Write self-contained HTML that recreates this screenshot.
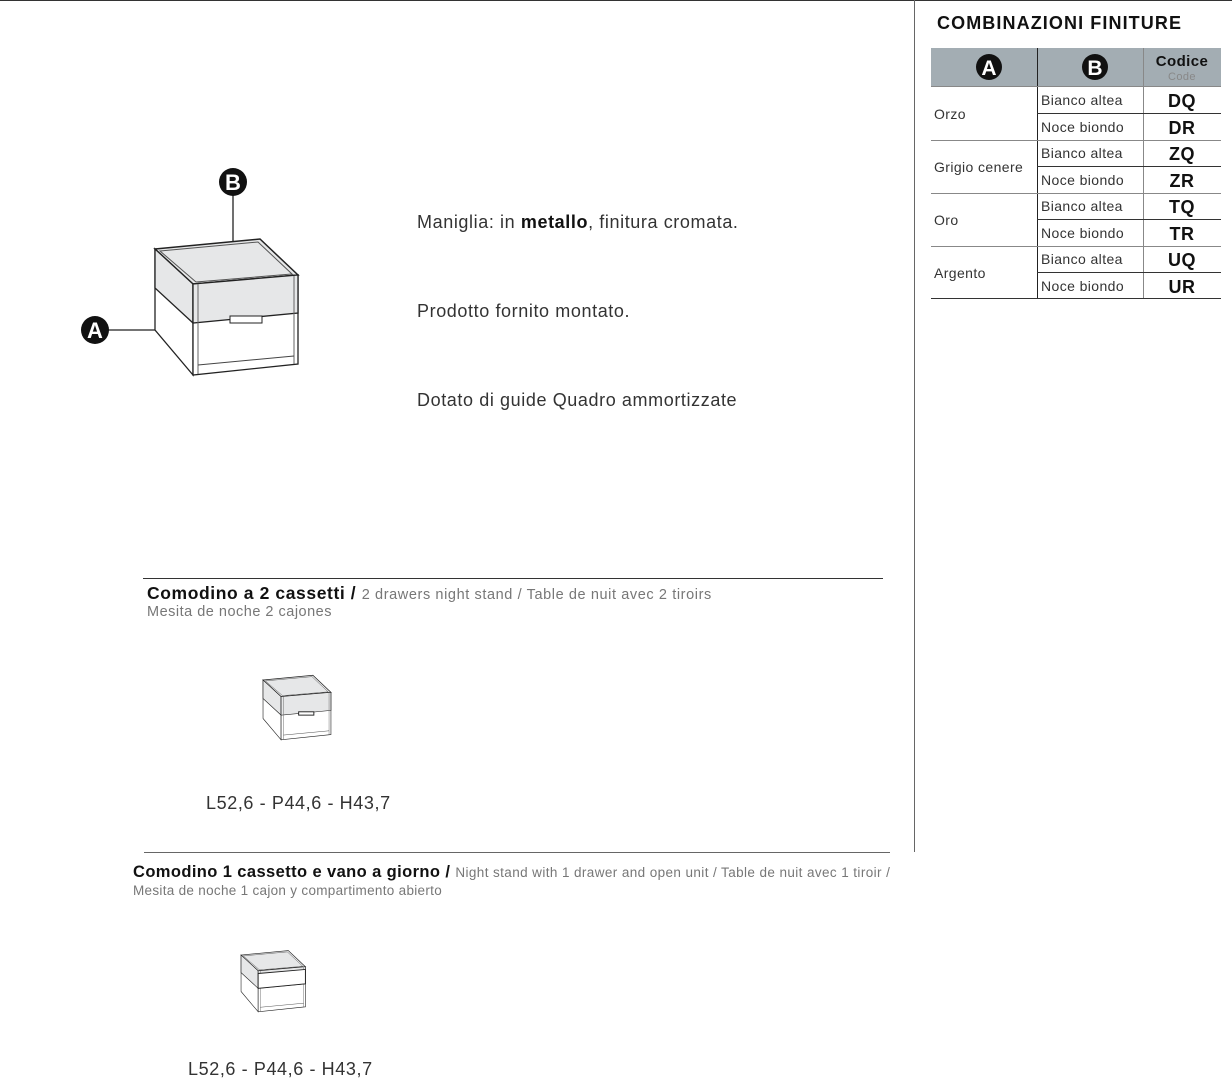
<!DOCTYPE html>
<html><head><meta charset="utf-8"><style>
body{margin:0;width:1232px;height:1078px;background:#fff;position:relative;overflow:hidden;font-family:"Liberation Sans",sans-serif;color:#222}
.t{position:absolute;white-space:nowrap}
</style></head><body>
<svg width="1232" height="1078" style="position:absolute;left:0;top:0">
<defs>
<g id="ns">
<polygon points="155,249 260,239 298,275 193,284" fill="#e6e7e8" stroke="#222" stroke-width="1.5"/>
<polygon points="160,251 258,242 292,274 196,282" fill="none" stroke="#555" stroke-width="1"/>
<polygon points="155,249 193,284 193,375 155,330" fill="#fff" stroke="#222" stroke-width="1.3"/>
<polygon points="155,249 193,284 193,323 155,288" fill="#e6e7e8" stroke="#222" stroke-width="1.3"/>
<polygon points="193,284 298,275 298,364 193,375" fill="#fff" stroke="#222" stroke-width="1.3"/>
<polygon points="193,284 298,275 298,313 193,323" fill="#e6e7e8" stroke="#222" stroke-width="1.3"/>
<line x1="198" y1="284" x2="198" y2="374" stroke="#666" stroke-width="1"/>
<line x1="294" y1="276" x2="294" y2="364" stroke="#666" stroke-width="1"/>
<line x1="198" y1="365" x2="294" y2="356" stroke="#444" stroke-width="1"/>
</g>
</defs>
<line x1="0" y1="0.5" x2="1232" y2="0.5" stroke="#333" stroke-width="1"/>
<line x1="914.5" y1="0" x2="914.5" y2="852" stroke="#666" stroke-width="1"/>
<use href="#ns"/>
<rect x="230" y="316" width="32" height="7" fill="#fff" stroke="#222" stroke-width="1"/>
<line x1="108" y1="330" x2="155" y2="330" stroke="#222" stroke-width="1.3"/>
<circle cx="95" cy="330" r="14" fill="#111"/>
<text x="95" y="338" font-size="22" font-weight="bold" fill="#fff" text-anchor="middle" font-family="Liberation Sans">A</text>
<line x1="233" y1="195" x2="233" y2="241" stroke="#222" stroke-width="1.3"/>
<circle cx="233" cy="182" r="14" fill="#111"/>
<text x="233" y="190" font-size="22" font-weight="bold" fill="#fff" text-anchor="middle" font-family="Liberation Sans">B</text>
<g transform="translate(189.4,561.7) scale(0.475)"><use href="#ns"/><rect x="230" y="316" width="32" height="7" fill="#fff" stroke="#222" stroke-width="2"/></g>
<g transform="translate(171.3,843) scale(0.45)"><use href="#ns"/><polygon points="193,290 298,281 298,313 193,323" fill="#fff" stroke="#222" stroke-width="2"/></g>
<line x1="143" y1="578.5" x2="883" y2="578.5" stroke="#333" stroke-width="1"/>
<line x1="144" y1="852.5" x2="890" y2="852.5" stroke="#666" stroke-width="1"/>
<rect x="931" y="48" width="290" height="38" fill="#a3adb3"/>
<line x1="1037.5" y1="48" x2="1037.5" y2="299" stroke="#222"/>
<line x1="1143.5" y1="48" x2="1143.5" y2="299" stroke="#888"/>
<line x1="931" y1="86.5" x2="1221" y2="86.5" stroke="#888"/>
<line x1="1037" y1="113.5" x2="1221" y2="113.5" stroke="#333"/>
<line x1="931" y1="140.5" x2="1221" y2="140.5" stroke="#888"/>
<line x1="1037" y1="166.5" x2="1221" y2="166.5" stroke="#333"/>
<line x1="931" y1="193.5" x2="1221" y2="193.5" stroke="#888"/>
<line x1="1037" y1="219.5" x2="1221" y2="219.5" stroke="#333"/>
<line x1="931" y1="246.5" x2="1221" y2="246.5" stroke="#888"/>
<line x1="1037" y1="272.5" x2="1221" y2="272.5" stroke="#333"/>
<line x1="931" y1="298.5" x2="1221" y2="298.5" stroke="#333"/>
<circle cx="989" cy="67" r="13" fill="#111"/>
<text x="989" y="75" font-size="21" font-weight="bold" fill="#fff" text-anchor="middle" font-family="Liberation Sans">A</text>
<circle cx="1095" cy="67" r="13" fill="#111"/>
<text x="1095" y="75" font-size="21" font-weight="bold" fill="#fff" text-anchor="middle" font-family="Liberation Sans">B</text>
<g font-family="Liberation Sans" font-size="14" fill="#333" letter-spacing="0.4">
<text x="1182" y="66" font-weight="bold" font-size="15" text-anchor="middle" fill="#111">Codice</text>
<text x="1182" y="80" font-size="11" text-anchor="middle" fill="#888">Code</text>
<text x="934" y="119">Orzo</text><text x="934" y="172">Grigio cenere</text>
<text x="934" y="225">Oro</text><text x="934" y="278">Argento</text>
<text x="1041" y="105">Bianco altea</text><text x="1041" y="132">Noce biondo</text>
<text x="1041" y="158">Bianco altea</text><text x="1041" y="185">Noce biondo</text>
<text x="1041" y="211">Bianco altea</text><text x="1041" y="238">Noce biondo</text>
<text x="1041" y="264">Bianco altea</text><text x="1041" y="291">Noce biondo</text>
<g font-weight="bold" font-size="18" fill="#111" text-anchor="middle" letter-spacing="0.5">
<text x="1182" y="107">DQ</text><text x="1182" y="134">DR</text>
<text x="1182" y="160">ZQ</text><text x="1182" y="187">ZR</text>
<text x="1182" y="213">TQ</text><text x="1182" y="240">TR</text>
<text x="1182" y="266">UQ</text><text x="1182" y="293">UR</text>
</g></g>
</svg>
<div class="t" style="left:937px;top:13px;font-size:18px;font-weight:bold;color:#111;letter-spacing:1.1px">COMBINAZIONI FINITURE</div>
<div class="t" style="left:417px;top:212px;font-size:18px;color:#333;letter-spacing:0.6px">Maniglia: in <b style="color:#111">metallo</b>, finitura cromata.</div>
<div class="t" style="left:417px;top:301px;font-size:18px;color:#333;letter-spacing:0.6px">Prodotto fornito montato.</div>
<div class="t" style="left:417px;top:390px;font-size:18px;color:#333;letter-spacing:0.6px">Dotato di guide Quadro ammortizzate</div>
<div class="t" style="left:147px;top:583px;font-size:17.5px;font-weight:bold;color:#111;letter-spacing:0.6px">Comodino a 2 cassetti / <span style="font-size:14.5px;font-weight:normal;color:#777;letter-spacing:0.6px">2 drawers night stand / Table de nuit avec 2 tiroirs</span></div>
<div class="t" style="left:147px;top:604px;font-size:14.5px;color:#777;letter-spacing:0.5px">Mesita de noche 2 cajones</div>
<div class="t" style="left:206px;top:793px;font-size:18px;color:#333;letter-spacing:0.6px">L52,6 - P44,6 - H43,7</div>
<div class="t" style="left:133px;top:863px;font-size:16.5px;font-weight:bold;color:#111;letter-spacing:0.4px">Comodino 1 cassetto e vano a giorno / <span style="font-size:13.5px;font-weight:normal;color:#777;letter-spacing:0.4px">Night stand with 1 drawer and open unit / Table de nuit avec 1 tiroir /</span></div>
<div class="t" style="left:133px;top:883px;font-size:13.5px;color:#777;letter-spacing:0.3px">Mesita de noche 1 cajon y compartimento abierto</div>
<div class="t" style="left:188px;top:1059px;font-size:18px;color:#333;letter-spacing:0.6px">L52,6 - P44,6 - H43,7</div>
</body></html>
